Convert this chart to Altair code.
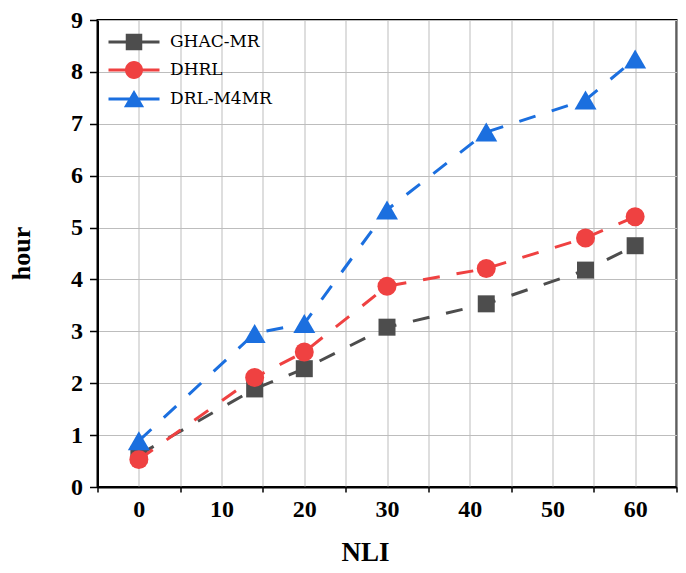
import altair as alt
import pandas as pd

# values
nli = [0, 14, 20, 30, 42, 54, 60]
ghac_mr = [0.62, 1.89, 2.28, 3.08, 3.53, 4.18, 4.65]
dhrl = [0.53, 2.11, 2.60, 3.87, 4.21, 4.80, 5.21]
drl_m4mr = [0.89, 2.96, 3.15, 5.34, 6.84, 7.46, 8.25]

series_names = ["GHAC-MR", "DHRL", "DRL-M4MR"]
series_colors = ["#4d4d4d", "#ef4141", "#1b6fdf"]
marker_shapes = ["square", "circle", "triangle-up"]
marker_sizes = [289, 361, 484]

# legend symbols: short solid line with the marker on it
legend_paths = [
    "M-3.4,-0.2H3.4V0.2H-3.4Z M-1.1,-1.1H1.1V1.1H-1.1Z",
    "M-3.4,-0.2H3.4V0.2H-3.4Z M-1.2,0A1.2,1.2,0,1,1,1.2,0A1.2,1.2,0,1,1,-1.2,0Z",
    "M-3.4,-0.2H3.4V0.2H-3.4Z M0,-1.2L1.35,1.1L-1.35,1.1Z",
]

x_ticks = [-5, 0, 5, 10, 15, 20, 25, 30, 35, 40, 45, 50, 55, 60, 65]
y_ticks = [i / 2 for i in range(19)]

df = pd.DataFrame({
    "NLI": nli * 3,
    "hour": ghac_mr + dhrl + drl_m4mr,
    "series": [s for s in series_names for _ in nli],
})

font = "Liberation Serif"
legend_font = "DejaVu Serif"

x_axis = alt.Axis(
    values=x_ticks, title="NLI", grid=True, gridColor="#bdbdbd", gridWidth=1,
    domainColor="black", domainWidth=2, tickColor="black", tickWidth=1.5, tickSize=5,
    tickOpacity={"condition": {"test": "datum.value % 10 === 0", "value": 0}, "value": 1},
    labelExpr="datum.value % 10 === 0 ? datum.label : ''",
    labelFont=font, labelFontWeight="bold", labelFontSize=24, labelColor="black",
    labelPadding=5, labelFlush=False, labelOverlap=False,
    titleFont=font, titleFontWeight="bold", titleFontSize=27, titleColor="black",
    titleX=267.5, titleY=79, titleBaseline="bottom", titleAlign="center",
)
y_axis = alt.Axis(
    values=y_ticks, title="hour", grid=True, gridColor="#bdbdbd", gridWidth=1,
    domainColor="black", domainWidth=2, tickColor="black", tickWidth=1.5,
    tickSize={"condition": {"test": "datum.value % 1 === 0", "value": 8}, "value": 4},
    format="d", labelExpr="datum.value % 1 === 0 ? datum.label : ''",
    labelFont=font, labelFontWeight="bold", labelFontSize=24, labelColor="black",
    labelPadding=7, labelFlush=False, labelOverlap=False,
    titleFont=font, titleFontWeight="bold", titleFontSize=26, titleColor="black",
    titleX=-68, titleY=233, titleBaseline="alphabetic", titleAlign="center", titleAngle=-90,
)

x_enc = alt.X("NLI:Q", scale=alt.Scale(domain=[-5, 65], nice=False), axis=x_axis)
y_enc = alt.Y("hour:Q", scale=alt.Scale(domain=[0, 9], nice=False), axis=y_axis)
color_scale = alt.Scale(domain=series_names, range=series_colors)

base = alt.Chart(df)

# invisible layer that only carries the legend (first, so its legend settings win)
legend_props = dict(
    title=None, orient="none", legendX=28, legendY=13.5, padding=0, rowPadding=10,
    labelOffset=27.5, labelFont=legend_font, labelFontSize=17, labelFontWeight="normal",
    labelColor="black", symbolSize=225, symbolStrokeWidth=0, symbolOpacity=1,
)
legend_layer = base.mark_point(filled=True, opacity=0).encode(
    x=x_enc, y=y_enc,
    color=alt.Color("series:N", scale=color_scale, legend=alt.Legend(**legend_props)),
    shape=alt.Shape("series:N", scale=alt.Scale(domain=series_names, range=legend_paths),
                    legend=alt.Legend(**legend_props)),
)
layers = [legend_layer]

for name, shape, size in zip(series_names, marker_shapes, marker_sizes):
    sub = base.transform_filter(alt.datum.series == name)
    layers.append(sub.mark_line(strokeDash=[17, 17], strokeWidth=3).encode(
        x=x_enc, y=y_enc, color=alt.Color("series:N", scale=color_scale, legend=None)))
    layers.append(sub.mark_point(shape=shape, size=size, filled=True, opacity=1).encode(
        x=x_enc, y=y_enc, color=alt.Color("series:N", scale=color_scale, legend=None)))

chart = alt.layer(*layers).properties(
    width=579, height=467, autosize="none",
    padding={"left": 89.5, "top": 12, "right": 1, "bottom": 78},
).configure_view(
    stroke="black", strokeWidth=2
).configure_legend(
    labelFont=legend_font, labelFontSize=17, labelColor="black"
)

chart.save("out.html", embed_options={"renderer": "svg", "actions": False})
